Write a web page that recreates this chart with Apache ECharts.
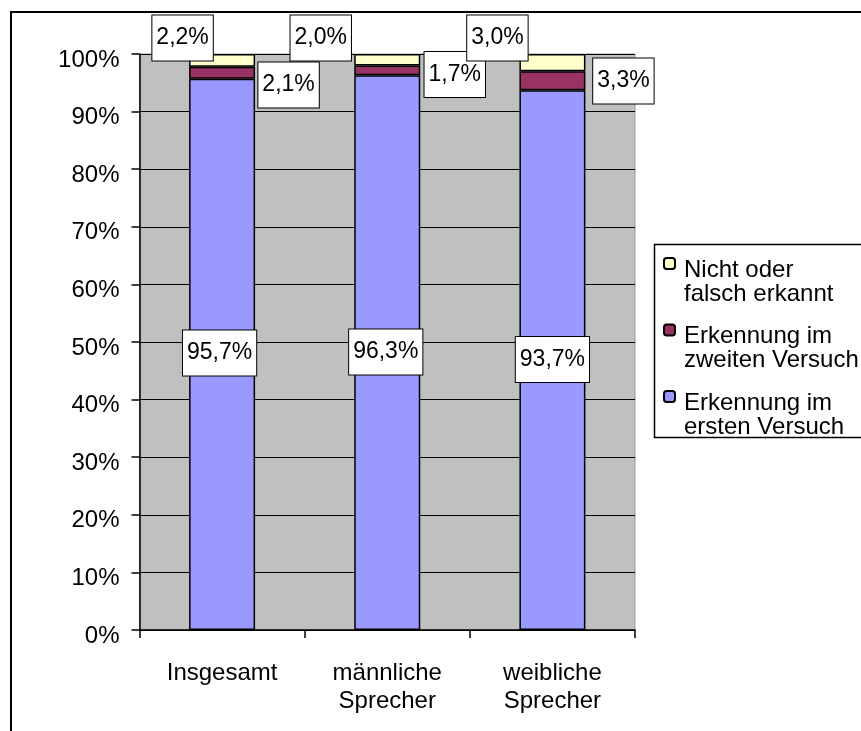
<!DOCTYPE html>
<html>
<head>
<meta charset="utf-8">
<script src="https://cdn.jsdelivr.net/npm/echarts@6/dist/echarts.min.js"></script>
<style>
  html, body { margin: 0; padding: 0; background: #ffffff; }
  #chart { width: 861px; height: 731px; }
</style>
</head>
<body>
<div id="chart"></div>
<script>
// Categories and stacked shares (percent)
const categories = ['Insgesamt', 'männliche\nSprecher', 'weibliche\nSprecher'];
const ersterVersuch = [95.7, 96.3, 93.7];
const zweiterVersuch = [2.1, 1.7, 3.3];
const nichtErkannt = [2.2, 2.0, 3.0];

const seriesNames = ['Erkennung im ersten Versuch', 'Erkennung im zweiten Versuch', 'Nicht oder falsch erkannt'];
const legendLines = {
  'Nicht oder falsch erkannt': ['Nicht oder', 'falsch erkannt'],
  'Erkennung im zweiten Versuch': ['Erkennung im', 'zweiten Versuch'],
  'Erkennung im ersten Versuch': ['Erkennung im', 'ersten Versuch']
};

// Label box placement relative to each segment centre
const offsetsErster = [[-2.5, -1.4], [-1.5, -0.7], [0, -0.6]];
const offsetsZweiter = [[66.5, 12.3], [67.5, 4.1], [71, 0.2]];
const offsetsNicht = [[-39.5, -22.3], [-66.5, -21.8], [-55, -24.6]];

const FONT = '"Liberation Sans", Arial, sans-serif';
const fmt = v => v.toFixed(1).replace('.', ',') + '%';

function withOffsets(values, offsets) {
  return values.map((v, i) => ({ value: v, label: { offset: offsets[i] } }));
}

const labelBox = {
  show: true,
  position: 'inside',
  formatter: p => fmt(p.value),
  color: '#000',
  fontFamily: FONT,
  fontSize: 23,
  lineHeight: 23,
  backgroundColor: '#ffffff',
  borderColor: '#000000',
  borderWidth: 1,
  padding: [18, 4, 4, 4]
};

function barSeries(name, values, offsets, color) {
  return {
    name: name,
    type: 'bar',
    stack: 'total',
    barWidth: 66,
    data: withOffsets(values, offsets),
    itemStyle: { color: color, borderColor: '#000', borderWidth: 1.5 },
    label: labelBox,
    emphasis: { disabled: true }
  };
}

const chart = echarts.init(document.getElementById('chart'), null, { renderer: 'canvas' });

chart.setOption({
  animation: false,
  backgroundColor: '#ffffff',
  textStyle: { fontFamily: FONT },
  grid: {
    left: 139.5, top: 54, right: 226, bottom: 101,
    show: true,
    backgroundColor: '#C0C0C0',
    borderColor: '#9a9a9a',
    borderWidth: 1
  },
  xAxis: {
    type: 'category',
    data: categories,
    axisLine: { lineStyle: { color: '#000', width: 1.5 } },
    axisTick: { show: true, length: 8, lineStyle: { color: '#000', width: 1.5 } },
    axisLabel: {
      color: '#000', fontFamily: FONT, fontSize: 24, lineHeight: 28, margin: 29
    }
  },
  yAxis: {
    type: 'value',
    min: 0, max: 100, interval: 10,
    axisLine: { show: true, lineStyle: { color: '#000', width: 1.5 } },
    axisTick: { show: true, length: 8, lineStyle: { color: '#000', width: 1.5 } },
    splitLine: { show: true, lineStyle: { color: '#000', width: 1 } },
    axisLabel: {
      color: '#000', fontFamily: FONT, fontSize: 24, margin: 20,
      verticalAlign: 'top', lineHeight: 12,
      formatter: '{value}%'
    }
  },
  legend: {
    orient: 'vertical',
    left: 663,
    top: 234.5,
    padding: 0,
    itemWidth: 11,
    itemHeight: 11,
    itemGap: -5,
    data: [seriesNames[2], seriesNames[1], seriesNames[0]],
    formatter: name => '{s| }\n{t|' + legendLines[name][0] + '}\n{t|' + legendLines[name][1] + '}',
    textStyle: {
      color: '#000', fontFamily: FONT, fontSize: 24,
      padding: [0, 0, 0, 4],
      rich: {
        s: { fontSize: 10, lineHeight: 37 },
        t: { fontSize: 24, lineHeight: 24, fontFamily: FONT, color: '#000' }
      }
    },
    selectedMode: false
  },
  graphic: [
    {
      type: 'rect', z: 100, silent: true,
      shape: { x: 11, y: 12, width: 900, height: 800 },
      style: { fill: 'none', stroke: '#000', lineWidth: 2 }
    },
    {
      type: 'rect', z: 100, silent: true,
      shape: { x: 654.5, y: 244.5, width: 260, height: 193 },
      style: { fill: 'none', stroke: '#000', lineWidth: 1.5 }
    }
  ],
  series: [
    barSeries(seriesNames[0], ersterVersuch, offsetsErster, '#9999FF'),
    barSeries(seriesNames[1], zweiterVersuch, offsetsZweiter, '#993366'),
    barSeries(seriesNames[2], nichtErkannt, offsetsNicht, '#FFFFCC')
  ]
});
</script>
</body>
</html>
